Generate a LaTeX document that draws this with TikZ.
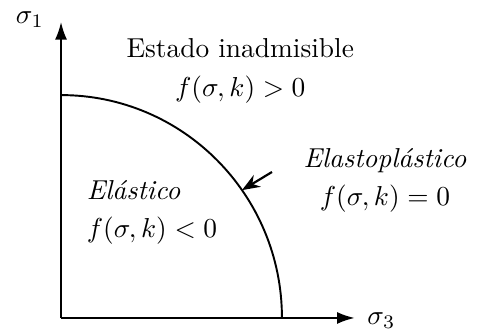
\documentclass[tikz,border=0pt]{standalone}
\usetikzlibrary{arrows.meta}

\tikzset{every picture/.style={line width=0.8pt}}

\begin{document}
\begin{tikzpicture}[scale=1.0]
    \useasboundingbox (-0.783,-0.192) rectangle (5.556,4.080);
    \coordinate (O) at (0,0);
    \coordinate (s1tip) at (0,3.80);
    \coordinate (s3tip) at (3.77,0);
    \draw[-{Latex[length=6.5pt,width=4.4pt]}] (O) -- (s1tip);
    \draw[-{Latex[length=6.5pt,width=4.4pt]}] (O) -- (s3tip);
    \node (s1) at (-0.40,3.83) {$\sigma_1$};
    \node[anchor=west] (s3) at (3.80,-0.03) {$\sigma_3$};
    % superficie de fluencia
    \draw[line width=0.7pt] (0,2.86) arc[start angle=90, end angle=0, x radius=2.835, y radius=2.86];
    \coordinate (touch) at (35:2.835 and 2.86);
    \node[align=center] (inad) at (2.30,3.17) {Estado inadmisible\\[1.9pt] $f(\sigma,k)>0$};
    \node[align=center] (elpl) at (4.156,1.771) {\textit{Elastopl\'astico}\\[1.9pt] $f(\sigma,k)=0$};
    \node[align=left, anchor=west] (el) at (0.20,1.36) {\textit{El\'astico}\\[1.9pt] $f(\sigma,k)<0$};
    \coordinate (tail) at (2.707,1.873);
    \draw[-{Stealth[length=6.5pt,width=5pt]}] (tail) -- (touch);
\end{tikzpicture}
\end{document}
